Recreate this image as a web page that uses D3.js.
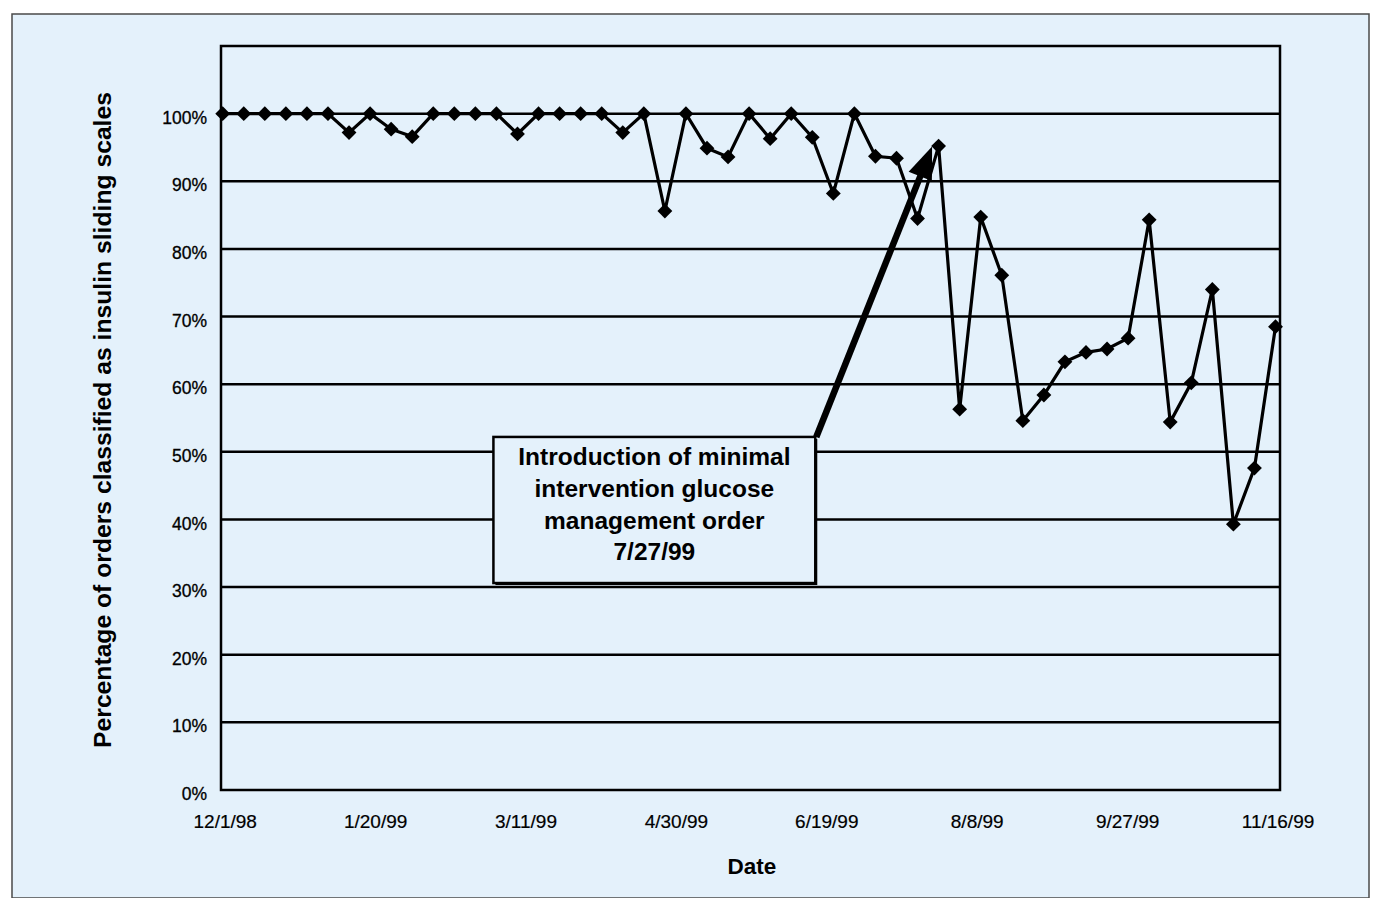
<!DOCTYPE html>
<html>
<head>
<meta charset="utf-8">
<script src="https://cdn.jsdelivr.net/npm/d3@7"></script>
<style>
  html, body { margin: 0; padding: 0; background: #ffffff; }
  svg { display: block; }
  text { font-family: "Liberation Sans", Arial, Helvetica, sans-serif; fill: #000; }
</style>
</head>
<body>
<svg id="chart" width="1382" height="898"></svg>
<script>
// ---------------- DATA ----------------
const weekDates = [
  "1998-12-01","1998-12-08","1998-12-15","1998-12-22","1998-12-29",
  "1999-01-05","1999-01-12","1999-01-19","1999-01-26",
  "1999-02-02","1999-02-09","1999-02-16","1999-02-23",
  "1999-03-02","1999-03-09","1999-03-16","1999-03-23","1999-03-30",
  "1999-04-06","1999-04-13","1999-04-20","1999-04-27",
  "1999-05-04","1999-05-11","1999-05-18","1999-05-25",
  "1999-06-01","1999-06-08","1999-06-15","1999-06-22","1999-06-29",
  "1999-07-06","1999-07-13","1999-07-20","1999-07-27",
  "1999-08-03","1999-08-10","1999-08-17","1999-08-24","1999-08-31",
  "1999-09-07","1999-09-14","1999-09-21","1999-09-28",
  "1999-10-05","1999-10-12","1999-10-19","1999-10-26",
  "1999-11-02","1999-11-09","1999-11-16"
];
const slidingScalePct = [
  100, 100, 100, 100, 100,
  100, 97.2, 100, 97.7,
  96.6, 100, 100, 100,
  100, 97.0, 100, 100, 100,
  100, 97.2, 100, 85.6,
  100, 94.9, 93.6, 100,
  96.3, 100, 96.5, 88.2, 100,
  93.7, 93.4, 84.5, 95.2,
  56.3, 84.7, 76.1, 54.6, 58.4,
  63.3, 64.7, 65.2, 66.8,
  84.3, 54.4, 60.2, 74.0,
  39.3, 47.6, 68.5
];
const xTickLabels = ["12/1/98","1/20/99","3/11/99","4/30/99","6/19/99","8/8/99","9/27/99","11/16/99"];
const yTickValues = [0,10,20,30,40,50,60,70,80,90,100];
const yAxisTitle = "Percentage of orders classified as insulin sliding scales";
const xAxisTitle = "Date";
const annotationLines = ["Introduction of minimal","intervention glucose","management order","7/27/99"];
const annotationDate = "1999-07-27";
const annotationValue = 95.2;
// annotation box extent, in data units
const annotationBoxDates = ["1999-03-01","1999-06-16"];
const annotationBoxValues = [52.2, 30.6];

// ---------------- LAYOUT ----------------
const BG = "#e4f1fb";
const svg = d3.select("#chart");
const plotLeft = 221, plotRight = 1280, plotTop = 46, plotBottom = 790;

const parse = d3.timeParse("%Y-%m-%d");
const parseTick = d3.timeParse("%m/%d/%y");
const data = weekDates.map((d, i) => ({ date: parse(d), value: slidingScalePct[i] }));

const x = d3.scaleTime()
  .domain([parse("1998-12-01"), parse("1999-11-16")])
  .range([222.7, 1275.5]);
const y = d3.scaleLinear().domain([0, 110]).range([plotBottom, plotTop]);

// outer background panel
svg.append("rect").attr("x", 12).attr("y", 14).attr("width", 1357).attr("height", 884)
  .attr("fill", BG).attr("stroke", "#4a4a4a").attr("stroke-width", 1.5);

// gridlines
svg.append("g").selectAll("line").data(yTickValues.filter(v => v > 0)).join("line")
  .attr("x1", plotLeft).attr("x2", plotRight)
  .attr("y1", d => y(d)).attr("y2", d => y(d))
  .attr("stroke", "#000").attr("stroke-width", 2.5);

// plot frame
svg.append("rect").attr("x", plotLeft).attr("y", plotTop)
  .attr("width", plotRight - plotLeft).attr("height", plotBottom - plotTop)
  .attr("fill", "none").attr("stroke", "#000").attr("stroke-width", 2.5);

// Y axis labels
const yAxis = d3.axisLeft(y).tickValues(yTickValues).tickFormat(d => d + "%").tickSize(0).tickPadding(0);
const gy = svg.append("g").attr("transform", `translate(207,4)`).call(yAxis);
gy.select(".domain").remove();
gy.selectAll("text").attr("font-size", 17.5).attr("font-family", "'Liberation Sans', Arial, sans-serif").attr("fill", "#000")
  .attr("stroke", "#000").attr("stroke-width", 0.3);

// X axis labels
const xAxis = d3.axisBottom(x).tickValues(xTickLabels.map(parseTick))
  .tickFormat((d, i) => xTickLabels[i]).tickSize(0).tickPadding(0);
const gx = svg.append("g").attr("transform", `translate(2,${plotBottom + 24})`).call(xAxis);
gx.select(".domain").remove();
gx.selectAll("text").attr("font-size", 19).attr("font-family", "'Liberation Sans', Arial, sans-serif").attr("fill", "#000")
  .attr("stroke", "#000").attr("stroke-width", 0.2);

// Axis titles
svg.append("text").attr("x", 752).attr("y", 874).attr("text-anchor", "middle")
  .attr("font-size", 22.5).attr("font-weight", "bold").text(xAxisTitle);

const yt = svg.append("text").attr("text-anchor", "middle")
  .attr("transform", "translate(111,420) rotate(-90)")
  .attr("font-size", 20).attr("font-weight", "bold").text(yAxisTitle);
const yl = yt.node().getComputedTextLength();
yt.attr("font-size", 20 * 656 / yl);

// Data line
svg.append("path").datum(data)
  .attr("d", d3.line().x(d => x(d.date)).y(d => y(d.value)))
  .attr("fill", "none").attr("stroke", "#000").attr("stroke-width", 3.2).attr("stroke-linejoin", "miter");

// Diamond markers
const diamond = d3.symbol().type(d3.symbolSquare).size(110);
svg.append("g").selectAll("path").data(data).join("path")
  .attr("d", diamond)
  .attr("transform", d => `translate(${x(d.date)},${y(d.value)}) rotate(45)`)
  .attr("fill", "#000");

// Annotation box
const bx0 = x(parse(annotationBoxDates[0])), bx1 = x(parse(annotationBoxDates[1]));
const by0 = y(annotationBoxValues[0]), by1 = y(annotationBoxValues[1]);
svg.append("rect").attr("x", bx0 + 2).attr("y", by0 + 2).attr("width", bx1 - bx0).attr("height", by1 - by0)
  .attr("fill", "#000");
svg.append("rect").attr("x", bx0).attr("y", by0).attr("width", bx1 - bx0).attr("height", by1 - by0)
  .attr("fill", BG).attr("stroke", "#000").attr("stroke-width", 2.5);
const cx = (bx0 + bx1) / 2;
svg.append("g").selectAll("text").data(annotationLines).join("text")
  .attr("x", cx).attr("y", (d, i) => by0 + 28 + i * 31.8)
  .attr("text-anchor", "middle").attr("font-size", 24.5).attr("font-weight", "bold")
  .text(d => d);

// Arrow from box corner to the 7/27/99 point
const tipX = x(parse(annotationDate)) - 6.5, tipY = y(annotationValue) + 0.5;
const sX = bx1 + 1, sY = by0;
const dx = tipX - sX, dy = tipY - sY, len = Math.hypot(dx, dy);
const ux = dx / len, uy = dy / len, px = -uy, py = ux;
const headLen = 32, headHalf = 12.5;
const baseX = tipX - ux * headLen, baseY = tipY - uy * headLen;
svg.append("line").attr("x1", sX).attr("y1", sY).attr("x2", baseX + ux * 4).attr("y2", baseY + uy * 4)
  .attr("stroke", "#000").attr("stroke-width", 6.5);
svg.append("path")
  .attr("d", `M${tipX},${tipY}L${baseX + px * headHalf},${baseY + py * headHalf}L${baseX - px * headHalf},${baseY - py * headHalf}Z`)
  .attr("fill", "#000");
</script>
</body>
</html>
